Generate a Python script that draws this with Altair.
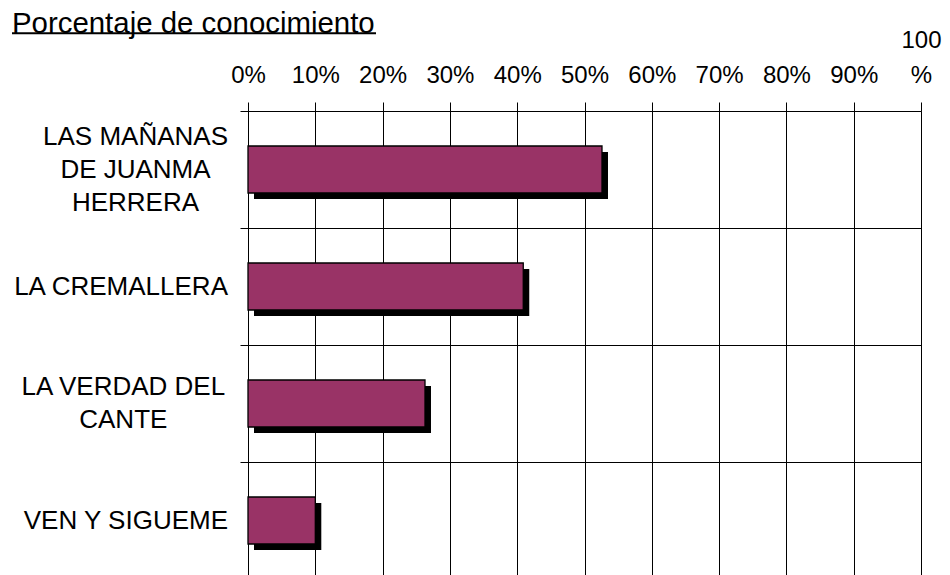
import altair as alt
import pandas as pd

TITLE = "Porcentaje de conocimiento"
CATEGORIES = [
    "LAS MAÑANAS|DE JUANMA|HERRERA",
    "LA CREMALLERA",
    "LA VERDAD DEL|CANTE",
    "VEN Y SIGUEME",
]
VALUES = [52.6, 40.9, 26.3, 10.0]
TICK_VALUES = [0, 10, 20, 30, 40, 50, 60, 70, 80, 90, 100]

FONT = "Liberation Sans"
BAR_COLOR = "#993366"

df = pd.DataFrame({"programa": CATEGORIES, "pct": VALUES})
title_df = pd.DataFrame({"t": [TITLE]})

x_axis = alt.Axis(
    orient="top",
    title=None,
    values=TICK_VALUES,
    labelExpr="datum.value == 100 ? ['100', '%'] : ['', datum.value + '%']",
    labelFont=FONT,
    labelFontSize=24,
    labelColor="black",
    labelLineHeight=35,
    labelPadding=50,
    labelFlush=False,
    labelOverlap=False,
    tickSize=9,
    tickColor="black",
    grid=True,
    gridColor="black",
    gridOpacity=1,
    domainColor="black",
)

y_axis = alt.Axis(
    title=None,
    labels=False,
    tickBand="extent",
    tickSize=8,
    tickColor="black",
    grid=True,
    gridColor="black",
    gridOpacity=1,
    domainColor="black",
)

x_enc = alt.X("pct:Q", scale=alt.Scale(domain=[0, 100], nice=False, zero=True), axis=x_axis)
y_enc = alt.Y(
    "programa:N",
    sort=CATEGORIES,
    scale=alt.Scale(paddingInner=0, paddingOuter=0),
    axis=y_axis,
)

shadow = alt.Chart(df).mark_bar(
    height=47, color="black", xOffset=6, x2Offset=6, yOffset=6, y2Offset=6
).encode(x=x_enc, y=y_enc)

bars = alt.Chart(df).mark_bar(
    height=47, fill=BAR_COLOR, stroke="black", strokeWidth=1.3
).encode(x=x_enc, y=y_enc)

label_style = dict(baseline="middle", fontSize=26, font=FONT, color="black",
                   lineBreak="|", lineHeight=33)

lab_single = alt.Chart(df).transform_filter(
    "indexof(datum.programa, '|') < 0"
).mark_text(align="right", **label_style).encode(
    y=y_enc, x=alt.value(-20), text="programa:N"
)

lab_three = alt.Chart(df).transform_filter(
    "indexof(datum.programa, 'MAÑANAS') >= 0"
).mark_text(align="center", dy=-33, **label_style).encode(
    y=y_enc, x=alt.value(-112.5), text="programa:N"
)

lab_two = alt.Chart(df).transform_filter(
    "indexof(datum.programa, 'CANTE') >= 0"
).mark_text(align="center", dy=-16.5, **label_style).encode(
    y=y_enc, x=alt.value(-124.7), text="programa:N"
)

title = alt.Chart(title_df).mark_text(
    align="left", baseline="alphabetic", fontSize=29.4, font=FONT, color="black"
).encode(text="t:N", x=alt.value(-236), y=alt.value(-78))

underline = alt.Chart(title_df).mark_rule(color="black", strokeWidth=2).encode(
    x=alt.value(-236), x2=alt.value(128), y=alt.value(-77.7)
)

chart = (
    alt.layer(shadow, bars, lab_single, lab_three, lab_two, title, underline)
    .properties(
        width=673,
        height=468,
        padding={"left": 240, "top": 103, "right": 21, "bottom": 0},
        autosize=alt.AutoSizeParams(type="none"),
        background="white",
    )
    .configure_view(strokeWidth=0)
)

chart.save("out.html", embed_options={"renderer": "svg", "actions": False})
